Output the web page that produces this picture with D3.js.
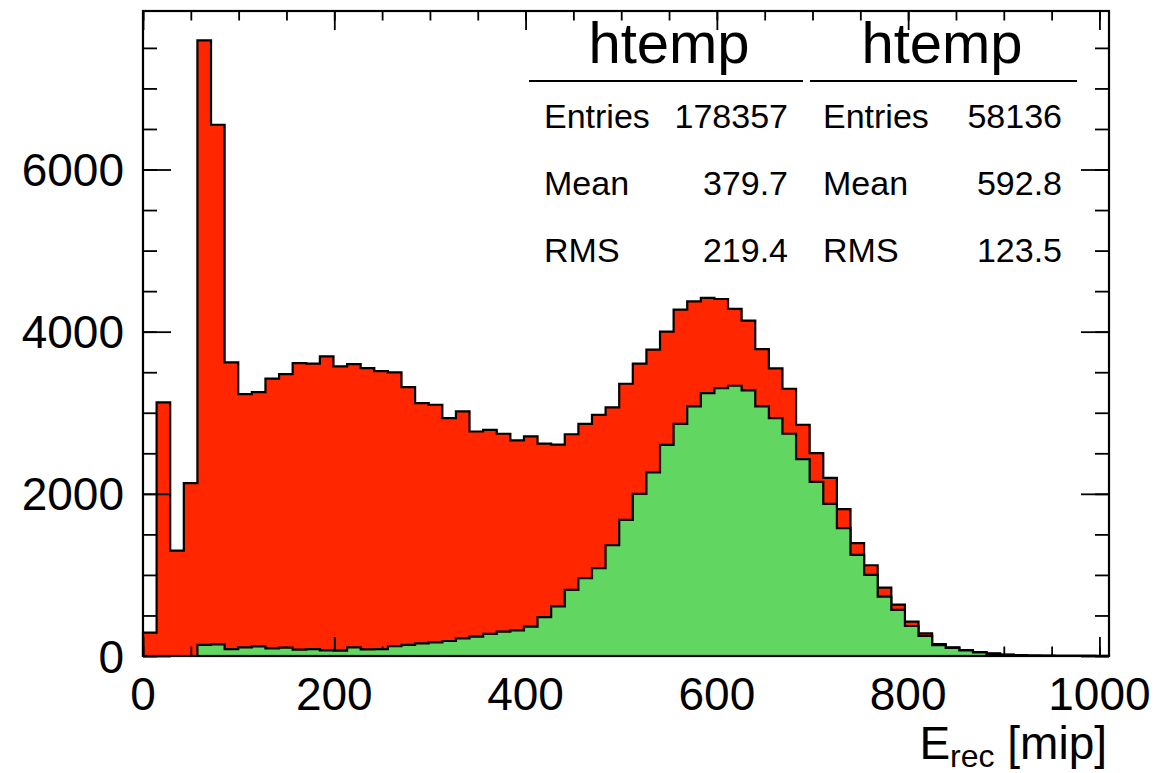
<!DOCTYPE html>
<html>
<head>
<meta charset="utf-8">
<script src="https://cdn.jsdelivr.net/npm/d3@7"></script>
<style>
  html, body { margin: 0; padding: 0; background: #fff; }
  svg { display: block; }
  text { font-family: "Liberation Sans", Arial, Helvetica, sans-serif; fill: #000; }
</style>
</head>
<body>
<svg id="chart" width="1159" height="773"></svg>
<script>
// ---------------- data ----------------
const xMin = 0, xMax = 1010;
const yMax = 7955;

// total (red) histogram, 71 bins
const redCounts = [
  288, 3127, 1300, 2132, 7593, 6552, 3621, 3230, 3255, 3420,
  3477, 3613, 3605, 3695, 3572, 3601, 3551, 3514, 3498, 3317,
  3119, 3099, 2934, 3016, 2769, 2790, 2741, 2660, 2708, 2620,
  2608, 2735, 2862, 2975, 3066, 3358, 3605, 3778, 4000, 4272,
  4374, 4416, 4403, 4280, 4136, 3786, 3547, 3296, 2852, 2502,
  2198, 1811, 1391, 1119, 844, 634, 424, 280, 148, 107,
  74, 49, 33, 18, 10, 6, 4, 3, 2, 1, 1
];
// selected (green) histogram, 71 bins
const greenCounts = [
  0, 0, 0, 0, 136, 144, 86, 107, 119, 95,
  103, 78, 86, 70, 66, 107, 82, 86, 123, 136,
  156, 169, 185, 218, 239, 272, 300, 315, 362, 480,
  612, 815, 959, 1082, 1366, 1679, 2000, 2263, 2605, 2864,
  3078, 3243, 3305, 3333, 3276, 3078, 2934, 2741, 2428, 2148,
  1877, 1576, 1247, 1000, 732, 568, 370, 247, 135, 100,
  68, 45, 25, 15, 8, 5, 3, 2, 1, 1, 0
];

const xMajorTicks = [0, 200, 400, 600, 800, 1000];
const xTickLabels = ["0", "200", "400", "600", "800", "1000"];
const xMinorTicks = d3.range(0, 1001, 50);
const yMajorTicks = [0, 2000, 4000, 6000];
const yTickLabels = ["0", "2000", "4000", "6000"];
const yMinorTicks = d3.range(0, 7501, 500);

const statTitles = ["htemp", "htemp"];
const statLabels = ["Entries", "Mean", "RMS"];
const statValuesRed = ["178357", "379.7", "219.4"];
const statValuesGreen = ["58136", "592.8", "123.5"];

// ---------------- layout ----------------
const L = 143, R = 1109, T = 11, B = 656;
const svg = d3.select("#chart");
const x = d3.scaleLinear().domain([xMin, xMax]).range([L, R]);
const y = d3.scaleLinear().domain([0, yMax]).range([B, T]);
const nBins = redCounts.length;
const binW = (xMax - xMin) / nBins;

function histPoints(vals) {
  const p = [[xMin, 0]];
  vals.forEach((v, i) => p.push([xMin + i * binW, v]));
  p.push([xMax, 0]);
  return p;
}
const area = d3.area().x(d => x(d[0])).y0(y(0)).y1(d => y(d[1])).curve(d3.curveStepAfter);
const line = d3.line().x(d => x(d[0])).y(d => y(d[1])).curve(d3.curveStepAfter);

function drawHist(vals, color) {
  const p = histPoints(vals);
  svg.append("path").attr("d", area(p)).attr("fill", color).attr("stroke", "none");
  svg.append("path").attr("d", line(p) + "Z").attr("fill", "none")
    .attr("stroke", "#000").attr("stroke-width", 2.2).attr("stroke-linejoin", "miter");
}

// red histogram
drawHist(redCounts, "#ff2600");

// ---------------- ticks ----------------
const tickStroke = 1.8;
function styleAxis(g) {
  g.select(".domain").remove();
  g.selectAll(".tick line").attr("stroke", "#000").attr("stroke-width", tickStroke);
  g.selectAll(".tick text").remove();
}
// bottom
svg.append("g").attr("transform", `translate(0,${B})`)
  .call(d3.axisBottom(x).tickValues(xMinorTicks).tickSize(-9.5).tickFormat("")).call(styleAxis);
svg.append("g").attr("transform", `translate(0,${B})`)
  .call(d3.axisBottom(x).tickValues(xMajorTicks).tickSize(-19).tickFormat("")).call(styleAxis);
// top
svg.append("g").attr("transform", `translate(0,${T})`)
  .call(d3.axisTop(x).tickValues(xMinorTicks).tickSize(-9.5).tickFormat("")).call(styleAxis);
svg.append("g").attr("transform", `translate(0,${T})`)
  .call(d3.axisTop(x).tickValues(xMajorTicks).tickSize(-19).tickFormat("")).call(styleAxis);
// left
svg.append("g").attr("transform", `translate(${L},0)`)
  .call(d3.axisLeft(y).tickValues(yMinorTicks).tickSize(-14).tickFormat("")).call(styleAxis);
svg.append("g").attr("transform", `translate(${L},0)`)
  .call(d3.axisLeft(y).tickValues(yMajorTicks).tickSize(-28).tickFormat("")).call(styleAxis);
// right
svg.append("g").attr("transform", `translate(${R},0)`)
  .call(d3.axisRight(y).tickValues(yMinorTicks).tickSize(-14).tickFormat("")).call(styleAxis);
svg.append("g").attr("transform", `translate(${R},0)`)
  .call(d3.axisRight(y).tickValues(yMajorTicks).tickSize(-28).tickFormat("")).call(styleAxis);

// green histogram (drawn over the ticks)
drawHist(greenCounts, "#61d661");

// frame
svg.append("rect").attr("x", L).attr("y", T).attr("width", R - L).attr("height", B - T)
  .attr("fill", "none").attr("stroke", "#000").attr("stroke-width", 2.2);

// ---------------- tick labels ----------------
const labelSize = 46;
svg.append("g").selectAll("text").data(xMajorTicks).join("text")
  .attr("x", d => x(d)).attr("y", 710)
  .attr("text-anchor", "middle").attr("font-size", labelSize)
  .text((d, i) => xTickLabels[i]);
svg.append("g").selectAll("text").data(yMajorTicks).join("text")
  .attr("x", 124).attr("y", d => y(d)).attr("dy", "0.36em")
  .attr("text-anchor", "end").attr("font-size", labelSize)
  .text((d, i) => yTickLabels[i]);

// x-axis title
const xt = svg.append("text").attr("x", 1107).attr("y", 759)
  .attr("text-anchor", "end").attr("font-size", labelSize);
xt.append("tspan").text("E");
xt.append("tspan").attr("font-size", 32).attr("dy", 8).text("rec");
xt.append("tspan").attr("dy", -8).text(" [mip]");

// ---------------- stats boxes ----------------
const boxes = [
  { x0: 529, x1: 803, cx: 669, labelX: 544, valueX: 788, values: statValuesRed },
  { x0: 810, x1: 1077, cx: 942, labelX: 823, valueX: 1062, values: statValuesGreen }
];
const rowY = [128, 195, 262];
boxes.forEach((b, bi) => {
  svg.append("text").attr("x", b.cx).attr("y", 63).attr("text-anchor", "middle")
    .attr("font-size", 58).text(statTitles[bi]);
  svg.append("line").attr("x1", b.x0).attr("x2", b.x1).attr("y1", 81).attr("y2", 81)
    .attr("stroke", "#000").attr("stroke-width", 2);
  statLabels.forEach((lab, i) => {
    svg.append("text").attr("x", b.labelX).attr("y", rowY[i]).attr("font-size", 34).text(lab);
    svg.append("text").attr("x", b.valueX).attr("y", rowY[i]).attr("text-anchor", "end")
      .attr("font-size", 34).text(b.values[i]);
  });
});
</script>
</body>
</html>
